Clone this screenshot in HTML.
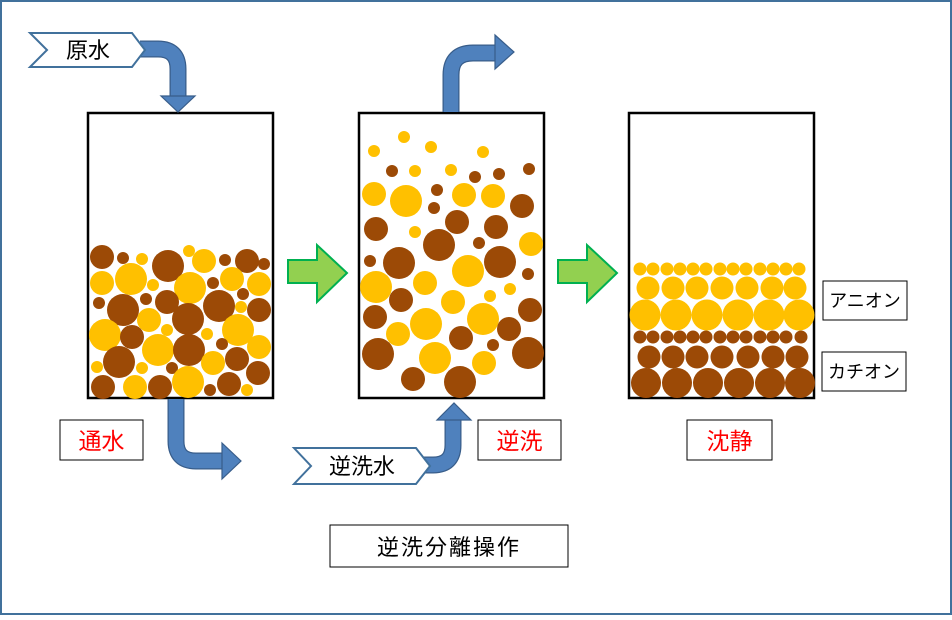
<!DOCTYPE html>
<html><head><meta charset="utf-8"><style>
html,body{margin:0;padding:0;background:#fff}
svg text{font-family:"Liberation Sans","Noto Sans CJK JP",sans-serif}
</style></head><body>
<svg width="952" height="615" viewBox="0 0 952 615" xmlns="http://www.w3.org/2000/svg">
<rect x="1" y="1" width="950" height="613" fill="#fff" stroke="#41719c" stroke-width="2"/>

<rect x="88" y="113" width="185" height="285" fill="#fff" stroke="#000" stroke-width="2.5"/>
<rect x="359" y="113" width="185" height="285" fill="#fff" stroke="#000" stroke-width="2.5"/>
<rect x="629" y="113" width="185" height="285" fill="#fff" stroke="#000" stroke-width="2.5"/>

<g>
<circle cx="102" cy="257" r="12" fill="#9c4a06"/><circle cx="123" cy="258" r="6" fill="#9c4a06"/><circle cx="142" cy="259" r="6" fill="#ffc000"/><circle cx="168" cy="266" r="16" fill="#9c4a06"/><circle cx="189" cy="251" r="6" fill="#ffc000"/><circle cx="204" cy="261" r="12" fill="#ffc000"/><circle cx="225" cy="260" r="6" fill="#9c4a06"/><circle cx="247" cy="261" r="12" fill="#9c4a06"/><circle cx="264" cy="264" r="6" fill="#9c4a06"/>
<circle cx="102" cy="283" r="12" fill="#ffc000"/><circle cx="131" cy="279" r="16" fill="#ffc000"/><circle cx="153" cy="285" r="6" fill="#ffc000"/><circle cx="190" cy="288" r="16" fill="#ffc000"/><circle cx="213" cy="283" r="6" fill="#9c4a06"/><circle cx="232" cy="279" r="12" fill="#ffc000"/><circle cx="259" cy="284" r="12" fill="#ffc000"/>
<circle cx="99" cy="303" r="6" fill="#9c4a06"/><circle cx="123" cy="310" r="16" fill="#9c4a06"/><circle cx="146" cy="299" r="6" fill="#9c4a06"/><circle cx="167" cy="302" r="12" fill="#9c4a06"/><circle cx="219" cy="306" r="16" fill="#9c4a06"/><circle cx="243" cy="294" r="6" fill="#9c4a06"/><circle cx="241" cy="307" r="6" fill="#ffc000"/><circle cx="259" cy="310" r="12" fill="#9c4a06"/>
<circle cx="149" cy="320" r="12" fill="#ffc000"/><circle cx="188" cy="319" r="16" fill="#9c4a06"/><circle cx="105" cy="335" r="16" fill="#ffc000"/><circle cx="132" cy="337" r="12" fill="#9c4a06"/><circle cx="167" cy="330" r="6" fill="#ffc000"/><circle cx="207" cy="334" r="6" fill="#ffc000"/><circle cx="238" cy="330" r="16" fill="#ffc000"/>
<circle cx="158" cy="350" r="16" fill="#ffc000"/><circle cx="189" cy="350" r="16" fill="#9c4a06"/><circle cx="222" cy="344" r="6" fill="#9c4a06"/><circle cx="259" cy="347" r="12" fill="#ffc000"/>
<circle cx="119" cy="362" r="16" fill="#9c4a06"/><circle cx="97" cy="367" r="6" fill="#ffc000"/><circle cx="142" cy="368" r="6" fill="#ffc000"/><circle cx="172" cy="368" r="6" fill="#9c4a06"/><circle cx="213" cy="363" r="12" fill="#ffc000"/><circle cx="237" cy="359" r="12" fill="#9c4a06"/><circle cx="258" cy="373" r="12" fill="#9c4a06"/>
<circle cx="103" cy="387" r="12" fill="#9c4a06"/><circle cx="135" cy="387" r="12" fill="#ffc000"/><circle cx="160" cy="387" r="12" fill="#9c4a06"/><circle cx="188" cy="382" r="16" fill="#ffc000"/><circle cx="210" cy="390" r="6" fill="#9c4a06"/><circle cx="229" cy="384" r="12" fill="#9c4a06"/><circle cx="247" cy="390" r="6" fill="#ffc000"/>
</g>

<g>
<circle cx="404" cy="137" r="6" fill="#ffc000"/><circle cx="374" cy="151" r="6" fill="#ffc000"/><circle cx="431" cy="147" r="6" fill="#ffc000"/><circle cx="483" cy="152" r="6" fill="#ffc000"/>
<circle cx="392" cy="171" r="6" fill="#9c4a06"/><circle cx="415" cy="171" r="6" fill="#ffc000"/><circle cx="451" cy="170" r="6" fill="#ffc000"/><circle cx="475" cy="177" r="6" fill="#9c4a06"/><circle cx="499" cy="174" r="6" fill="#9c4a06"/><circle cx="529" cy="169" r="6" fill="#9c4a06"/>
<circle cx="374" cy="194" r="12" fill="#ffc000"/><circle cx="406" cy="201" r="16" fill="#ffc000"/><circle cx="437" cy="190" r="6" fill="#9c4a06"/><circle cx="434" cy="208" r="6" fill="#9c4a06"/><circle cx="464" cy="195" r="12" fill="#ffc000"/><circle cx="493" cy="196" r="12" fill="#ffc000"/><circle cx="522" cy="206" r="12" fill="#9c4a06"/>
<circle cx="376" cy="229" r="12" fill="#9c4a06"/><circle cx="415" cy="232" r="6" fill="#ffc000"/><circle cx="457" cy="222" r="12" fill="#9c4a06"/><circle cx="496" cy="227" r="12" fill="#9c4a06"/><circle cx="439" cy="245" r="16" fill="#9c4a06"/><circle cx="479" cy="243" r="6" fill="#9c4a06"/><circle cx="531" cy="244" r="12" fill="#ffc000"/>
<circle cx="370" cy="261" r="6" fill="#9c4a06"/><circle cx="399" cy="263" r="16" fill="#9c4a06"/><circle cx="468" cy="271" r="16" fill="#ffc000"/><circle cx="500" cy="262" r="16" fill="#9c4a06"/><circle cx="528" cy="274" r="6" fill="#9c4a06"/>
<circle cx="376" cy="287" r="16" fill="#ffc000"/><circle cx="425" cy="283" r="12" fill="#ffc000"/><circle cx="510" cy="289" r="6" fill="#ffc000"/><circle cx="490" cy="296" r="6" fill="#ffc000"/><circle cx="401" cy="300" r="12" fill="#9c4a06"/><circle cx="453" cy="302" r="12" fill="#ffc000"/>
<circle cx="375" cy="317" r="12" fill="#9c4a06"/><circle cx="426" cy="324" r="16" fill="#ffc000"/><circle cx="483" cy="319" r="16" fill="#ffc000"/><circle cx="530" cy="310" r="12" fill="#9c4a06"/><circle cx="509" cy="329" r="12" fill="#9c4a06"/>
<circle cx="398" cy="334" r="12" fill="#ffc000"/><circle cx="461" cy="338" r="12" fill="#9c4a06"/><circle cx="493" cy="345" r="6" fill="#9c4a06"/><circle cx="378" cy="354" r="16" fill="#9c4a06"/><circle cx="435" cy="358" r="16" fill="#ffc000"/><circle cx="484" cy="363" r="12" fill="#ffc000"/><circle cx="528" cy="353" r="16" fill="#9c4a06"/>
<circle cx="413" cy="379" r="12" fill="#9c4a06"/><circle cx="460" cy="382" r="16" fill="#9c4a06"/>
</g>

<g fill="#ffc000">
<circle cx="640" cy="269" r="6.5"/><circle cx="653" cy="269" r="6.5"/><circle cx="667" cy="269" r="6.5"/><circle cx="680" cy="269" r="6.5"/><circle cx="693" cy="269" r="6.5"/><circle cx="706" cy="269" r="6.5"/><circle cx="720" cy="269" r="6.5"/><circle cx="733" cy="269" r="6.5"/><circle cx="746" cy="269" r="6.5"/><circle cx="760" cy="269" r="6.5"/><circle cx="773" cy="269" r="6.5"/><circle cx="786" cy="269" r="6.5"/><circle cx="799" cy="269" r="6.5"/>
<circle cx="648" cy="288" r="11.5"/><circle cx="673" cy="288" r="11.5"/><circle cx="697" cy="288" r="11.5"/><circle cx="722" cy="288" r="11.5"/><circle cx="747" cy="288" r="11.5"/><circle cx="772" cy="288" r="11.5"/><circle cx="795" cy="288" r="11.5"/>
<circle cx="645" cy="315" r="15.5"/><circle cx="676" cy="315" r="15.5"/><circle cx="707" cy="315" r="15.5"/><circle cx="738" cy="315" r="15.5"/><circle cx="769" cy="315" r="15.5"/><circle cx="799" cy="315" r="15.5"/>
</g>
<g fill="#9c4a06">
<circle cx="640" cy="337" r="6.5"/><circle cx="653" cy="337" r="6.5"/><circle cx="667" cy="337" r="6.5"/><circle cx="680" cy="337" r="6.5"/><circle cx="693" cy="337" r="6.5"/><circle cx="706" cy="337" r="6.5"/><circle cx="720" cy="337" r="6.5"/><circle cx="733" cy="337" r="6.5"/><circle cx="746" cy="337" r="6.5"/><circle cx="760" cy="337" r="6.5"/><circle cx="773" cy="337" r="6.5"/><circle cx="786" cy="337" r="6.5"/><circle cx="801" cy="337" r="6.5"/>
<circle cx="649" cy="357" r="11.5"/><circle cx="673" cy="357" r="11.5"/><circle cx="697" cy="357" r="11.5"/><circle cx="722" cy="357" r="11.5"/><circle cx="748" cy="357" r="11.5"/><circle cx="773" cy="357" r="11.5"/><circle cx="797" cy="357" r="11.5"/>
<circle cx="646" cy="383" r="15"/><circle cx="677" cy="383" r="15"/><circle cx="708" cy="383" r="15"/><circle cx="739" cy="383" r="15"/><circle cx="770" cy="383" r="15"/><circle cx="800" cy="383" r="15"/>
</g>

<g fill="none" stroke-linecap="butt">
<path d="M140,49 H158 Q178,49 178,69 V97" stroke="#385d8a" stroke-width="17"/>
<path d="M140,49 H158 Q178,49 178,69 V97" stroke="#4f81bd" stroke-width="14.5"/>
<path d="M176,399 V441 Q176,461 196,461 H223" stroke="#385d8a" stroke-width="17"/>
<path d="M176,399 V441 Q176,461 196,461 H223" stroke="#4f81bd" stroke-width="14.5"/>
<path d="M420,465 H433 Q453,465 453,445 V419" stroke="#385d8a" stroke-width="17"/>
<path d="M420,465 H433 Q453,465 453,445 V419" stroke="#4f81bd" stroke-width="14.5"/>
<path d="M451,112 V75 Q451,53 473,53 H496" stroke="#385d8a" stroke-width="17"/>
<path d="M451,112 V75 Q451,53 473,53 H496" stroke="#4f81bd" stroke-width="14.5"/>
</g>
<g fill="#4f81bd" stroke="#385d8a" stroke-width="1.2">
<polygon points="161,96 195,96 178,112"/>
<polygon points="222,443 241,461 222,479"/>
<polygon points="437,420 471,420 454,403"/>
<polygon points="495,35 514,52 495,69"/>
</g>

<polygon points="30,33 132,33 145,50 132,67 30,67 47,50" fill="#fff" stroke="#41719c" stroke-width="2"/>
<text x="88" y="58" font-size="22" text-anchor="middle">原水</text>
<polygon points="294,448 416,448 430,466 416,484 294,484 311,466" fill="#fff" stroke="#41719c" stroke-width="2"/>
<text x="362" y="474" font-size="22" text-anchor="middle">逆洗水</text>

<polygon points="288,260 317,260 317,245 347,273 317,302 317,283 288,283" fill="#92d050" stroke="#00b050" stroke-width="2"/>
<polygon points="558,260 587,260 587,245 617,273 587,302 587,283 558,283" fill="#92d050" stroke="#00b050" stroke-width="2"/>

<rect x="60" y="420" width="83" height="40" fill="#fff" stroke="#000" stroke-width="1"/>
<text x="101.5" y="449" font-size="23" fill="#ff0000" text-anchor="middle">通水</text>
<rect x="478" y="420" width="83" height="40" fill="#fff" stroke="#000" stroke-width="1"/>
<text x="519.5" y="449" font-size="23" fill="#ff0000" text-anchor="middle">逆洗</text>
<rect x="687" y="420" width="85" height="40" fill="#fff" stroke="#000" stroke-width="1"/>
<text x="729.5" y="449" font-size="23" fill="#ff0000" text-anchor="middle">沈静</text>
<rect x="823" y="281" width="84" height="39" fill="#fff" stroke="#000" stroke-width="1"/>
<text x="865" y="307" font-size="18" text-anchor="middle">アニオン</text>
<rect x="822" y="352" width="84" height="39" fill="#fff" stroke="#000" stroke-width="1"/>
<text x="864" y="378" font-size="18" text-anchor="middle">カチオン</text>
<rect x="330" y="525" width="238" height="42" fill="#fff" stroke="#000" stroke-width="1"/>
<text x="449" y="555" font-size="22" text-anchor="middle" letter-spacing="2">逆洗分離操作</text>
</svg>
</body></html>
